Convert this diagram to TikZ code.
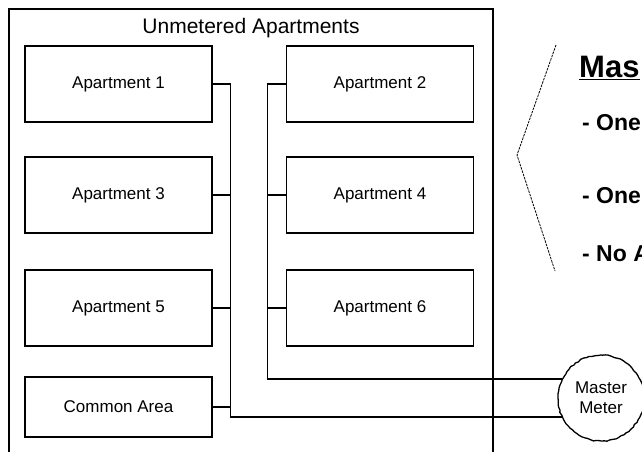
\documentclass[tikz,border=0pt]{standalone}
\usepackage{fontspec}
\setmainfont{Liberation Sans}
\usetikzlibrary{decorations.pathmorphing}

\tikzset{
  apt/.style={draw, line width=1.5pt, rectangle, inner sep=0pt,
    minimum width=187, minimum height=76, font=\fontsize{17}{20}\selectfont},
  wire/.style={line width=1.3pt},
  note/.style={anchor=base west, inner sep=0pt, font=\fontsize{23}{27}\bfseries\selectfont}
}

\begin{document}
\begin{tikzpicture}[x=1pt,y=-1pt]
        \clip (0,0) rectangle (642,451);
        % outer frame, runs past the bottom edge
        \draw[line width=1.5pt] (9,470) -- (9,9) -- (493,9) -- (493,470);
        \node (title) at (251,28) {\fontsize{21}{25}\selectfont Unmetered Apartments};

        \node[apt] (a1) at (118.5,84) {Apartment 1};
        \node[apt] (a3) at (118.5,195) {Apartment 3};
        \node[apt] (a5) at (118.5,308) {Apartment 5};
        \node[apt, minimum height=60] (common) at (118.5,407) {Common Area};
        \node[apt] (a2) at (380,84) {Apartment 2};
        \node[apt] (a4) at (380,195) {Apartment 4};
        \node[apt] (a6) at (380,308) {Apartment 6};

        \node[draw, circle, line width=1.3pt, minimum size=86, inner sep=0pt, align=center,
              decorate, decoration={random steps, segment length=3pt, amplitude=0.6pt},
              font=\fontsize{17}{20}\selectfont] (meter) at (601,398) {Master\\Meter};

        % left bus
        \draw[wire] (a1.east) -- ++(18,0) |- (meter.206);
        \draw[wire] (a3.east) -- ++(18,0);
        \draw[wire] (a5.east) -- ++(18,0);
        \draw[wire] (common.east) -- ++(18,0);
        % right bus
        \draw[wire] (a2.west) -- ++(-18,0) |- (meter.154);
        \draw[wire] (a4.west) -- ++(-18,0);
        \draw[wire] (a6.west) -- ++(-18,0);

        % brace and notes
        \draw[line width=0.8pt, dash pattern=on 2.5pt off 1pt] (556,45) -- (517,155) -- (555,271);
        \node[note, font=\fontsize{31}{36}\bfseries\selectfont] (head) at (579,77) {\underline{Mas}};
        \node[note] (n1) at (582,130) {- One};
        \node[note] (n2) at (582,203) {- One};
        \node[note] (n3) at (582,261) {- No A};
\end{tikzpicture}
\end{document}
